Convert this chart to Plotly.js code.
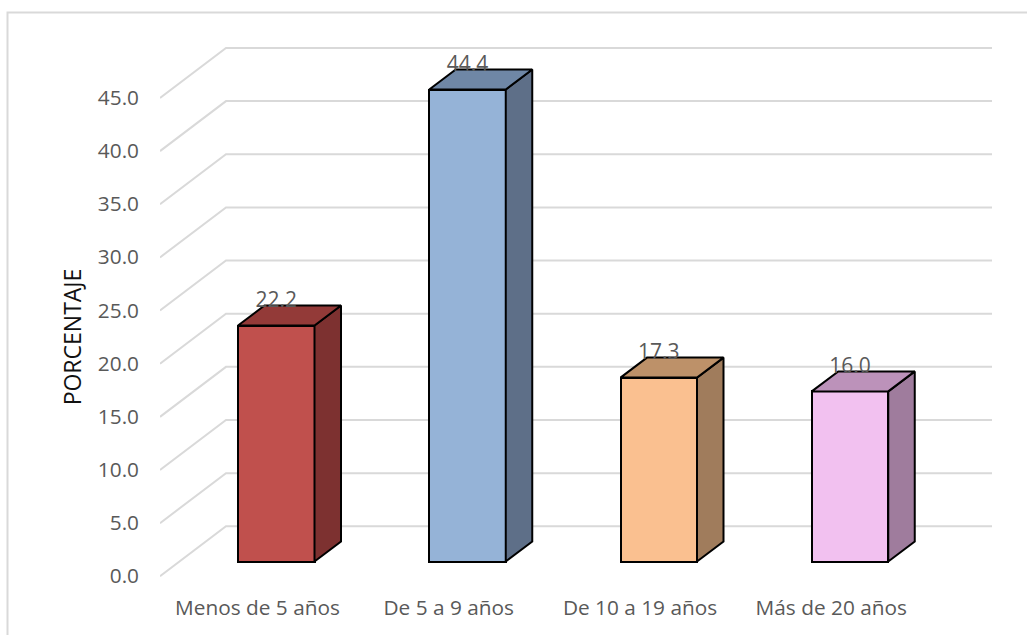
<!DOCTYPE html>
<html lang="es">
<head>
<meta charset="utf-8">
<title>Porcentaje por antigüedad</title>
<script src="https://cdn.plot.ly/plotly-3.0.1.min.js"></script>
<style>html,body{margin:0;padding:0;background:#fff}</style>
</head>
<body>
<div id="chart" style="width:1027px;height:635px"></div>
<script>
// Chart values
const categories = ["Menos de 5 años", "De 5 a 9 años", "De 10 a 19 años", "Más de 20 años"];
const percentages = [22.2, 44.4, 17.3, 16.0];
const valueTicks = [0, 5, 10, 15, 20, 25, 30, 35, 40, 45];

// Face colours of each column
const frontColors = ["#C0504D", "#95B3D7", "#FAC090", "#F2C1F0"];
const topColors = ["#933A38", "#6F87A6", "#BD9169", "#BC92BA"];
const sideColors = ["#7D3130", "#5E6F88", "#A07C5C", "#9F7C9D"];

// Plot frame in pixels and the oblique projection of the depth axis
const W = 1027, H = 635;
const plot = { left: 160, right: 992, top: 40, bottom: 634 };
const axisRow = 585;
const pxPerUnit = 10.63, pxPerCategory = 191.25;
const zeroRow = 576, firstColumn = 276.25;
const xRange = [(plot.left - firstColumn) / pxPerCategory, (plot.right - firstColumn) / pxPerCategory];
const yRange = [(zeroRow - plot.bottom) / pxPerUnit, (zeroRow - plot.top) / pxPerUnit];
const colX = px => (px - firstColumn) / pxPerCategory;
const rowY = px => (zeroRow - px) / pxPerUnit;

// Gridlines: a diagonal on the left wall, then straight across the back wall
const wallLift = 50 / pxPerUnit;
const frontFloor = rowY(576.3);
const gridX = [], gridY = [];
valueTicks.forEach(t => {
  gridX.push(colX(plot.left), colX(226), colX(plot.right), null);
  gridY.push(frontFloor + t, frontFloor + t + wallLift, frontFloor + t + wallLift, null);
});

// Columns stand part-way into the depth of the floor
const barFloor = rowY(561.5);
const barWidth = 0.4;
const depthX = 26.5 / pxPerCategory, depthY = 20 / pxPerUnit;

const edge = { color: "#000000", width: 2 };
const traces = [{
  type: "scatter", mode: "lines", x: gridX, y: gridY,
  line: { color: "#D9D9D9", width: 2 }, hoverinfo: "skip", showlegend: false, cliponaxis: false
}, {
  type: "bar", x: categories.map((_, i) => i), y: percentages, base: barFloor, width: barWidth,
  xaxis: "x2", yaxis: "y2",
  marker: { color: frontColors, line: { color: "#000000", width: 2 } },
  showlegend: false, hovertemplate: "%{y:.1f}<extra></extra>"
}];

percentages.forEach((v, i) => {
  const l = i - barWidth / 2, r = i + barWidth / 2, t = barFloor + v;
  traces.push({
    type: "scatter", mode: "lines", fill: "toself", fillcolor: sideColors[i], line: edge,
    x: [r, r + depthX, r + depthX, r, r], y: [barFloor, barFloor + depthY, t + depthY, t, barFloor],
    xaxis: "x2", yaxis: "y2", hoverinfo: "skip", showlegend: false
  });
  traces.push({
    type: "scatter", mode: "lines", fill: "toself", fillcolor: topColors[i], line: edge,
    x: [l, r, r + depthX, l + depthX, l], y: [t, t, t + depthY, t + depthY, t],
    xaxis: "x2", yaxis: "y2", hoverinfo: "skip", showlegend: false
  });
});

// Value labels sit over the top face of each column
const labelLift = 24 / pxPerUnit;
traces.push({
  type: "scatter", mode: "text",
  x: percentages.map((_, i) => i),
  y: percentages.map(v => barFloor + v + labelLift),
  text: percentages.map(v => v.toFixed(1)),
  textposition: "middle center",
  textfont: { family: "Open Sans, sans-serif", size: 21, color: "#595959" },
  xaxis: "x2", yaxis: "y2", hoverinfo: "skip", showlegend: false, cliponaxis: false
});

const font = { family: "Open Sans, sans-serif", size: 20.8, color: "#595959" };
const layout = {
  width: W, height: H,
  margin: { l: plot.left, r: W - plot.right, t: plot.top, b: H - plot.bottom, pad: 0 },
  paper_bgcolor: "#FFFFFF", plot_bgcolor: "rgba(0,0,0,0)",
  showlegend: false, font: font, bargap: 0,
  xaxis: {
    range: xRange, showgrid: false, zeroline: false, showline: false, ticks: "",
    anchor: "free", position: (plot.bottom - axisRow) / (plot.bottom - plot.top),
    tickmode: "array", tickvals: categories.map((_, i) => i - 18.75 / pxPerCategory), ticktext: categories,
    ticklabelstandoff: 8, tickfont: font, tickangle: 0
  },
  yaxis: {
    range: yRange, showgrid: false, zeroline: false, showline: false, ticks: "",
    tickmode: "array", tickvals: valueTicks, ticktext: valueTicks.map(t => t.toFixed(1)),
    ticklabelstandoff: 20, tickfont: font,
    title: { text: "PORCENTAJE", font: { family: "Open Sans, sans-serif", size: 23, color: "#111111" }, standoff: 9 }
  },
  xaxis2: { overlaying: "x", range: xRange, visible: false },
  yaxis2: { overlaying: "y", range: yRange, visible: false },
  // Outer chart border: top and left edges
  shapes: [{
    type: "path", xref: "paper", yref: "paper",
    path: `M ${(7.5 - plot.left) / (plot.right - plot.left)} ${(plot.bottom - 640) / (plot.bottom - plot.top)} ` +
          `L ${(7.5 - plot.left) / (plot.right - plot.left)} ${(plot.bottom - 12.5) / (plot.bottom - plot.top)} ` +
          `L ${(1030 - plot.left) / (plot.right - plot.left)} ${(plot.bottom - 12.5) / (plot.bottom - plot.top)}`,
    line: { color: "#D9D9D9", width: 2 }
  }]
};

Plotly.newPlot("chart", traces, layout, { displayModeBar: false, responsive: false });
</script>
</body>
</html>
